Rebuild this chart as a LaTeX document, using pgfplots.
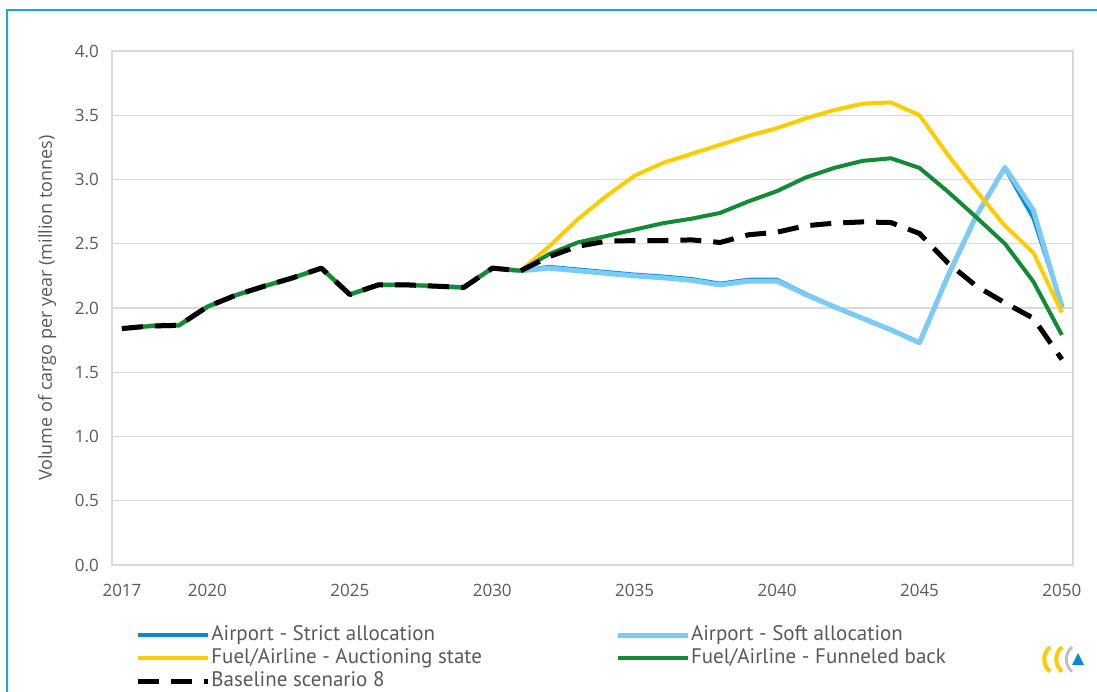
\documentclass[border=0pt]{standalone}
\usepackage{pgfplots}
\usepackage{pgfplotstable}
\pgfplotsset{compat=1.18}
\usepackage{fontspec}
\setmainfont{Open Sans}
\newfontfamily\legfont{PT Sans}
\definecolor{strictblue}{HTML}{0A8AD6}
\definecolor{softblue}{HTML}{7CCBF5}
\definecolor{fuelyellow}{HTML}{FFCC00}
\definecolor{fgreen}{HTML}{138A36}
\definecolor{framecyan}{HTML}{1AA9DE}
\definecolor{txtgray}{HTML}{595959}
\definecolor{gridgray}{HTML}{D9D9D9}

\pgfplotstableread{
year strict soft auction funnel base
2017 1.84 1.84 1.84 1.84 1.84
2018 1.86 1.86 1.86 1.86 1.86
2019 1.865 1.865 1.865 1.865 1.865
2020 2.01 2.01 2.01 2.01 2.01
2021 2.10 2.10 2.10 2.10 2.10
2022 2.17 2.17 2.17 2.17 2.17
2023 2.235 2.235 2.235 2.235 2.235
2024 2.31 2.31 2.31 2.31 2.31
2025 2.105 2.105 2.105 2.105 2.105
2026 2.18 2.18 2.18 2.18 2.18
2027 2.18 2.18 2.18 2.18 2.18
2028 2.17 2.17 2.17 2.17 2.17
2029 2.16 2.16 2.16 2.16 2.16
2030 2.31 2.31 2.31 2.31 2.31
2031 2.29 2.29 2.29 2.29 2.29
2032 2.32 2.31 2.48 2.42 2.40
2033 2.30 2.29 2.69 2.51 2.48
2034 2.28 2.27 2.87 2.56 2.52
2035 2.26 2.25 3.03 2.61 2.525
2036 2.245 2.235 3.13 2.66 2.525
2037 2.225 2.215 3.20 2.695 2.53
2038 2.19 2.18 3.27 2.74 2.51
2039 2.22 2.21 3.34 2.83 2.57
2040 2.22 2.21 3.40 2.91 2.59
2041 2.11 2.105 3.475 3.015 2.64
2042 2.01 2.01 3.54 3.09 2.66
2043 1.92 1.92 3.59 3.145 2.67
2044 1.83 1.83 3.60 3.165 2.665
2045 1.73 1.73 3.50 3.09 2.58
2046 2.25 2.25 3.19 2.905 2.35
2047 2.72 2.72 2.91 2.705 2.17
2048 3.09 3.095 2.64 2.50 2.04
2049 2.70 2.76 2.43 2.205 1.92
2050 2.02 2.00 1.965 1.79 1.60
}\datatable

\begin{document}
\begin{tikzpicture}[x=1pt,y=1pt]
\useasboundingbox (0,0) rectangle (548.5,345.5);
\clip (0,0) rectangle (548.5,345.5);
\draw[framecyan, line width=0.8pt] (3.5,-5) -- (3.5,340.5) -- (560,340.5);
\begin{axis}[
  at={(56pt,63pt)}, anchor=south west,
  scale only axis, width=480.5pt, height=257pt,
  xmin=2016.65, xmax=2050.39, ymin=0, ymax=4,
  xtick={2017,2020,2025,2030,2035,2040,2045,2050},
  ytick={0,0.5,1,1.5,2,2.5,3,3.5,4},
  ymajorgrids,
  grid style={gridgray, line width=0.6pt},
  axis line style={gridgray, line width=0.6pt},
  major tick length=0pt,
  /pgf/number format/assume math mode=true,
  xticklabel style={/pgf/number format/1000 sep={}, font=\fontsize{8.5}{10}\selectfont, text=txtgray, yshift=-6pt},
  yticklabel style={/pgf/number format/fixed, /pgf/number format/precision=1, /pgf/number format/fixed zerofill, font=\fontsize{8.5}{10}\selectfont, text=txtgray, xshift=-3pt},
  ylabel={Volume of cargo per year (million tonnes)},
  ylabel style={font=\fontsize{9}{10}\selectfont, text=txtgray, yshift=2.5pt},
  legend columns=2,
  legend cell align=left,
  legend style={at={(axis description cs:0.0239,-0.113)}, anchor=north west, draw=none, fill=none, inner sep=0pt,
    font=\legfont\fontsize{10.5}{12}\selectfont, text=txtgray, row sep=-0.6pt,
    nodes={inner xsep=0.5pt, inner ysep=1pt, text height=7.5pt, text depth=2.5pt},
    /tikz/every even column/.append style={column sep=66pt}},
  legend image code/.code={\draw[#1] (0pt,0pt) -- (35pt,0pt);},
  every axis plot/.append style={line join=round},
]
\addplot[strictblue, line width=2pt] table[x=year,y=strict] {\datatable};
\addlegendentry{Airport - Strict allocation}
\addplot[softblue, line width=2.5pt] table[x=year,y=soft] {\datatable};
\addlegendentry{Airport - Soft allocation}
\addplot[fuelyellow, line width=2pt] table[x=year,y=auction] {\datatable};
\addlegendentry{Fuel/Airline - Auctioning state}
\addplot[fgreen, line width=2pt] table[x=year,y=funnel] {\datatable};
\addlegendentry{Fuel/Airline - Funneled back}
\addplot[black, line width=2.5pt, dash pattern=on 10.5pt off 6pt] table[x=year,y=base] {\datatable};
\addlegendentry{Baseline scenario 8}
\end{axis}
% small logo
\draw[fuelyellow, line width=2pt] (525,22) arc (130:230:8);
\draw[fuelyellow, line width=2pt] (531,22) arc (130:230:8);
\draw[gray!50, line width=1.5pt] (536,22) arc (130:230:8);
\fill[strictblue] (536,13) -- (542,13) -- (539,19) -- cycle;
\end{tikzpicture}
\end{document}
